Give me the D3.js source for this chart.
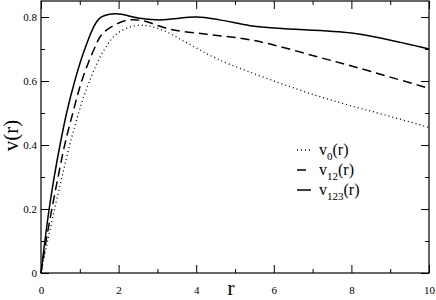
<!DOCTYPE html>
<html>
<head>
<meta charset="utf-8">
<script src="https://cdn.jsdelivr.net/npm/d3@7"></script>
<style>
  body { margin: 0; background: #fff; }
  svg text { font-family: "Liberation Serif", "Times New Roman", serif; }
</style>
</head>
<body>
<div id="chart"></div>
<script>
// values
var r0 = [0, 0.17, 0.35, 0.54, 0.74, 0.97, 1.25, 1.64, 1.98, 2.5, 3.07, 3.84, 4.56, 6.05, 7.14, 8.0, 8.86, 10];
var v0 = [0, 0.1, 0.2, 0.3, 0.4, 0.5, 0.6, 0.7, 0.75, 0.774, 0.762, 0.714, 0.668, 0.598, 0.553, 0.522, 0.494, 0.455];

var r12 = [0, 0.13, 0.28, 0.44, 0.61, 0.82, 1.05, 1.37, 1.6, 2.16, 2.55, 3.32, 4.27, 5.13, 5.85, 7.14, 8.0, 10];
var v12 = [0, 0.1, 0.2, 0.3, 0.4, 0.5, 0.6, 0.7, 0.75, 0.788, 0.79, 0.762, 0.746, 0.734, 0.717, 0.675, 0.647, 0.577];

var r123 = [0, 0.1, 0.21, 0.34, 0.49, 0.66, 0.87, 1.13, 1.5, 1.9, 2.55, 3.07, 4.01, 4.61, 5.39, 6.1, 8.0, 8.86, 10];
var v123 = [0, 0.1, 0.2, 0.3, 0.4, 0.5, 0.6, 0.7, 0.795, 0.81, 0.796, 0.791, 0.80, 0.791, 0.773, 0.765, 0.75, 0.731, 0.70];

var xTicks = [0, 2, 4, 6, 8, 10];
var yTicks = [0, 0.2, 0.4, 0.6, 0.8];
var labels = ["v", "v", "v"];
var subs = ["0", "12", "123"];
var dashes = ["1,3", "9,5", null];

var margin = {top: 1, right: 7, bottom: 27, left: 41},
    width = 436 - margin.left - margin.right,
    height = 300 - margin.top - margin.bottom;

var svg = d3.select("#chart").append("svg")
    .attr("width", 436)
    .attr("height", 300)
    .append("g")
    .attr("transform", "translate(" + margin.left + "," + margin.top + ")");

var x = d3.scaleLinear().domain([0, 10]).range([0, width]);
var y = d3.scaleLinear().domain([0, 0.85]).range([height, 0]);

function styleAxis(g) {
    g.attr("font-family", null);
    g.select(".domain").remove();
    g.selectAll("line").attr("stroke", "#000");
    g.selectAll("text").attr("font-size", "11px").attr("fill", "#000");
}

// major + minor ticks, pointing inward, on all four sides
var xMinor = [1, 3, 5, 7, 9];
var yMinor = [0.1, 0.3, 0.5, 0.7];

svg.append("g").attr("transform", "translate(0," + height + ")")
    .call(d3.axisBottom(x).tickValues(xTicks).tickSize(-8).tickPadding(13).tickFormat(d3.format("d")))
    .call(styleAxis);
svg.append("g").attr("transform", "translate(0," + height + ")")
    .call(d3.axisBottom(x).tickValues(xMinor).tickSize(-4).tickFormat(""))
    .call(styleAxis);
svg.append("g")
    .call(d3.axisTop(x).tickValues(xTicks).tickSize(-8).tickFormat(""))
    .call(styleAxis);
svg.append("g")
    .call(d3.axisTop(x).tickValues(xMinor).tickSize(-4).tickFormat(""))
    .call(styleAxis);

svg.append("g")
    .call(d3.axisLeft(y).tickValues(yTicks).tickSize(-8).tickPadding(4)
        .tickFormat(function(d) { return d === 0 ? "0" : d3.format(".1f")(d); }))
    .call(styleAxis);
svg.append("g")
    .call(d3.axisLeft(y).tickValues(yMinor).tickSize(-4).tickFormat(""))
    .call(styleAxis);
svg.append("g").attr("transform", "translate(" + width + ",0)")
    .call(d3.axisRight(y).tickValues(yTicks).tickSize(-8).tickFormat(""))
    .call(styleAxis);
svg.append("g").attr("transform", "translate(" + width + ",0)")
    .call(d3.axisRight(y).tickValues(yMinor).tickSize(-4).tickFormat(""))
    .call(styleAxis);

svg.append("rect")
    .attr("width", width).attr("height", height)
    .attr("fill", "none").attr("stroke", "#000").attr("stroke-width", 1.2);

var series = [
    {r: r0, v: v0},
    {r: r12, v: v12},
    {r: r123, v: v123}
];

var line = d3.line()
    .x(function(d) { return x(d[0]); })
    .y(function(d) { return y(d[1]); })
    .curve(d3.curveCatmullRom.alpha(0.5));

series.forEach(function(s, i) {
    svg.append("path")
        .datum(d3.zip(s.r, s.v))
        .attr("fill", "none")
        .attr("stroke", "#000")
        .attr("stroke-width", i === 0 ? 1.3 : 1.5)
        .attr("stroke-dasharray", dashes[i])
        .attr("d", line);
});

// legend
var leg = svg.append("g").attr("transform", "translate(256,149)");
labels.forEach(function(l, i) {
    var row = leg.append("g").attr("transform", "translate(0," + (i * 20) + ")");
    row.append("line")
        .attr("x1", 0).attr("x2", 14)
        .attr("stroke", "#000").attr("stroke-width", 1.5)
        .attr("stroke-dasharray", dashes[i]);
    var t = row.append("text").attr("x", 22).attr("y", 5).attr("font-size", "16px");
    t.append("tspan").text(l);
    t.append("tspan").attr("font-size", "11px").attr("dy", 5).text(subs[i]);
    t.append("tspan").attr("dy", -5).text("(r)");
});

// axis titles
svg.append("text")
    .attr("x", x(5) - 4)
    .attr("y", height + 22)
    .attr("text-anchor", "middle")
    .attr("font-size", "21px")
    .text("r");

svg.append("text")
    .attr("transform", "translate(" + (-23) + "," + (y(0.43)) + ") rotate(-90)")
    .attr("text-anchor", "middle")
    .attr("font-size", "21px")
    .text("v(r)");
</script>
</body>
</html>
